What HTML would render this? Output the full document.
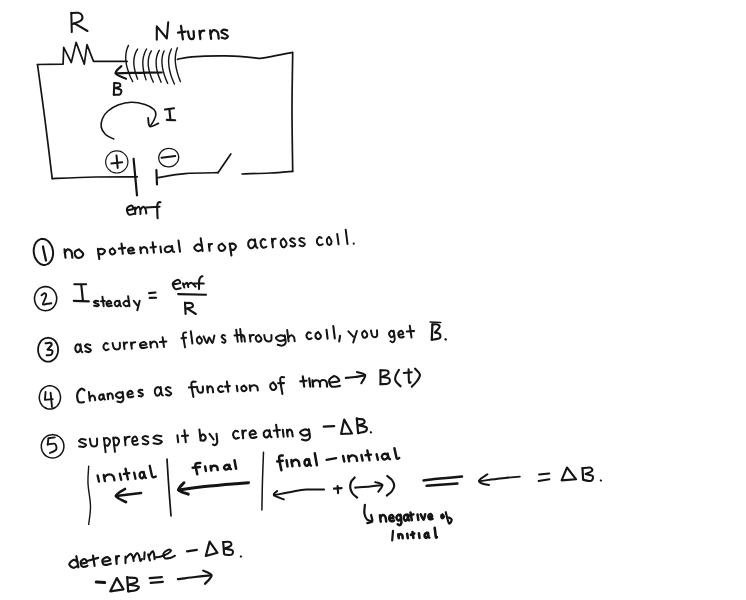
<!DOCTYPE html>
<html><head><meta charset="utf-8"><style>
html,body{margin:0;padding:0;background:#fff;width:746px;height:600px;overflow:hidden;font-family:"Liberation Sans",sans-serif;}
svg{position:absolute;left:0;top:0;filter:blur(0.35px);}
path{fill:none;stroke:#141414;stroke-linecap:round;stroke-linejoin:round;}
</style></head><body>
<svg width="746" height="600" viewBox="0 0 746 600">
<path d="M71.3,12.8L71.8,32.1" stroke-width="2.04"/>
<path d="M71.3,13.2C72.4,13.1 76.2,12.4 78.0,12.8C79.8,13.2 81.6,14.2 82.1,15.5C82.6,16.8 82.5,19.1 81.0,20.5C79.5,21.9 74.2,23.4 72.9,24.0" stroke-width="2.04"/>
<path d="M74.0,23.2L87.5,31.0" stroke-width="2.04"/>
<path d="M37.5,64.5 L63.1,64.1 L63.7,47.3 L71.3,62.5 L76.1,42.4 L84.3,64.1 L87.0,44.6 L93.5,61.4 L127.1,61.4" stroke-width="1.7"/>
<path d="M37.5,64.5C38.8,73.8 42.5,101.0 45.0,120.0C47.5,139.0 51.0,168.8 52.2,178.6" stroke-width="1.7"/>
<path d="M52.2,178.6C59.3,178.3 80.8,177.3 95.0,177.0C109.2,176.7 130.2,176.8 137.3,176.8" stroke-width="1.7"/>
<path d="M133.6,158.8 L137.0,195.3" stroke-width="2.2"/>
<path d="M156.4,170.2 L157.0,184.4" stroke-width="2.2"/>
<path d="M158.1,177.6C162.6,176.9 175.0,174.4 185.0,173.6C195.0,172.8 212.5,172.8 218.0,172.7" stroke-width="1.7"/>
<path d="M218.0,172.7 L230.8,154.0" stroke-width="1.7"/>
<path d="M242.0,174.0C246.7,173.8 261.6,173.4 270.0,173.0C278.4,172.6 288.9,171.6 292.7,171.3" stroke-width="1.7"/>
<path d="M292.7,52.7C292.6,62.2 292.0,90.2 292.0,110.0C292.0,129.8 292.6,161.1 292.7,171.3" stroke-width="1.7"/>
<path d="M177.5,59.3C179.9,58.9 183.8,57.4 191.8,56.8C199.8,56.2 215.6,55.8 225.3,55.9C235.0,56.0 243.9,56.9 250.0,57.3C256.1,57.7 255.0,58.9 262.1,58.1C269.2,57.3 287.4,53.3 292.5,52.3" stroke-width="1.7"/>
<path d="M128.5,45.4C128.2,46.0 127.4,47.8 127.0,49.0C126.6,50.3 126.3,51.6 126.1,52.9C125.9,54.3 125.7,55.7 125.7,57.1C125.7,58.5 125.8,60.0 126.0,61.5C126.1,63.0 126.4,64.6 126.8,66.1C127.1,67.7 127.6,69.4 128.2,71.0C128.7,72.7 129.4,74.4 130.1,76.2C130.9,78.0 132.3,80.7 132.7,81.6" stroke-width="1.4"/>
<path d="M137.6,49.0C137.3,49.5 136.4,50.9 136.0,51.9C135.5,52.9 135.1,54.0 134.8,55.0C134.5,56.1 134.2,57.3 134.1,58.5C133.9,59.6 133.8,60.8 133.8,62.1C133.8,63.4 133.9,64.7 134.1,66.0C134.2,67.3 134.5,68.7 134.8,70.2C135.1,71.6 135.5,73.0 136.0,74.5C136.4,76.1 137.3,78.4 137.6,79.2" stroke-width="1.4"/>
<path d="M146.6,49.0C146.3,49.5 145.5,50.9 145.0,52.0C144.6,53.0 144.2,54.1 143.9,55.2C143.5,56.3 143.3,57.5 143.1,58.7C143.0,59.9 142.9,61.1 142.8,62.4C142.8,63.7 142.9,65.0 143.0,66.4C143.1,67.7 143.3,69.1 143.6,70.6C143.8,72.0 144.2,73.5 144.6,75.1C145.0,76.6 145.8,79.0 146.0,79.8" stroke-width="1.4"/>
<path d="M151.4,50.9C151.1,51.4 150.3,52.9 149.8,53.9C149.4,55.0 149.1,56.1 148.8,57.2C148.5,58.4 148.4,59.5 148.3,60.8C148.2,62.0 148.2,63.2 148.2,64.5C148.3,65.9 148.5,67.2 148.7,68.6C149.0,70.0 149.3,71.4 149.8,72.9C150.2,74.3 150.7,75.9 151.3,77.4C151.9,79.0 153.0,81.4 153.3,82.2" stroke-width="1.4"/>
<path d="M159.3,50.3C159.0,50.8 158.2,52.3 157.8,53.4C157.3,54.5 157.0,55.6 156.7,56.8C156.4,57.9 156.3,59.1 156.2,60.4C156.1,61.6 156.1,62.9 156.2,64.2C156.2,65.6 156.4,66.9 156.6,68.4C156.9,69.8 157.2,71.2 157.6,72.7C158.0,74.2 158.5,75.8 159.1,77.3C159.7,78.9 160.8,81.4 161.1,82.2" stroke-width="1.4"/>
<path d="M164.1,50.9C163.9,51.4 163.2,53.0 162.9,54.1C162.6,55.2 162.3,56.3 162.2,57.5C162.0,58.7 161.9,59.9 161.9,61.2C161.9,62.5 162.0,63.8 162.2,65.2C162.3,66.5 162.5,67.9 162.8,69.3C163.1,70.8 163.5,72.3 164.0,73.8C164.5,75.3 165.0,76.9 165.6,78.5C166.2,80.1 167.4,82.6 167.7,83.4" stroke-width="1.4"/>
<path d="M171.4,49.0C171.2,49.6 170.4,51.3 170.0,52.5C169.6,53.7 169.3,55.0 169.0,56.2C168.8,57.5 168.7,58.9 168.6,60.2C168.6,61.6 168.6,63.0 168.8,64.5C168.9,66.0 169.1,67.5 169.4,69.0C169.7,70.5 170.1,72.1 170.5,73.8C171.0,75.4 171.6,77.0 172.2,78.8C172.9,80.5 174.0,83.1 174.4,84.0" stroke-width="1.4"/>
<path d="M177.4,47.8C177.2,48.4 176.6,50.0 176.3,51.1C176.0,52.3 175.7,53.5 175.6,54.7C175.4,56.0 175.3,57.3 175.3,58.6C175.3,59.9 175.3,61.3 175.4,62.7C175.6,64.1 175.8,65.6 176.0,67.0C176.3,68.5 176.7,70.1 177.1,71.6C177.5,73.2 178.0,74.8 178.5,76.5C179.1,78.2 180.1,80.8 180.4,81.6" stroke-width="1.4"/>
<path d="M115.7,73.3C119.8,73.2 132.3,72.9 140.0,72.8C147.7,72.7 158.1,72.5 161.7,72.5" stroke-width="2.2"/>
<path d="M121.3,66.2C120.4,67.4 114.9,71.2 115.7,73.3C116.5,75.4 124.3,77.8 126.0,78.7" stroke-width="2.24"/>
<path d="M114.3,82.9L113.8,94.7" stroke-width="2.04"/>
<path d="M114.3,83.0C115.1,83.0 118.3,82.8 119.3,83.3C120.2,83.8 120.7,85.5 120.0,86.3C119.3,87.1 115.8,87.7 115.0,88.0" stroke-width="2.04"/>
<path d="M115.0,88.0C116.0,88.3 120.2,89.0 121.0,90.0C121.8,91.0 121.2,93.5 120.0,94.3C118.8,95.1 114.8,94.6 113.8,94.7" stroke-width="2.04"/>
<path d="M156.8,39.8 L156.8,26.4 L166.8,38.5 L168.2,22.4" stroke-width="2.08"/>
<path d="M181.0,25.9L182.9,39.3" stroke-width="2.25"/>
<path d="M178.0,32.6L185.6,31.6" stroke-width="2.25"/>
<path d="M188.0,31.4C188.2,32.3 188.6,35.9 189.2,37.2C189.8,38.5 190.9,39.1 191.6,39.1C192.4,39.2 193.5,38.8 193.8,37.5C194.1,36.2 193.7,32.2 193.6,31.1" stroke-width="2.25"/>
<path d="M199.4,30.8L200.4,39.0" stroke-width="2.25"/>
<path d="M199.9,34.5C200.1,33.9 200.7,31.8 201.4,31.1C202.2,30.5 203.8,30.7 204.3,30.6" stroke-width="2.25"/>
<path d="M210.1,30.3L211.1,38.8" stroke-width="2.25"/>
<path d="M210.5,33.7C211.0,33.1 212.3,30.4 213.4,30.1C214.6,29.9 216.7,30.7 217.6,32.1C218.5,33.5 218.5,37.5 218.7,38.6" stroke-width="2.25"/>
<path d="M227.2,30.3C226.6,30.2 224.7,29.3 223.7,29.6C222.7,29.9 221.1,31.2 221.3,31.9C221.4,32.7 223.6,33.3 224.7,34.0C225.8,34.7 227.7,35.4 227.9,36.2C228.0,36.9 226.6,38.2 225.6,38.5C224.6,38.7 222.4,37.8 221.7,37.7" stroke-width="2.25"/>
<path d="M113.7,139.0C112.3,138.2 107.6,136.5 105.5,134.5C103.4,132.5 101.7,129.7 101.2,127.0C100.7,124.3 101.4,121.2 102.5,118.5C103.6,115.8 105.4,113.2 108.0,111.0C110.6,108.8 114.1,106.5 118.0,105.0C121.9,103.5 126.7,102.3 131.2,102.2C135.7,102.1 141.2,103.3 145.0,104.5C148.8,105.7 152.2,107.8 154.0,109.5C155.8,111.2 155.9,113.1 155.8,115.0C155.7,116.9 154.4,119.2 153.5,121.0C152.6,122.8 151.0,125.0 150.5,125.8" stroke-width="1.6"/>
<path d="M148.1,117.9C148.4,119.3 148.2,125.5 149.9,126.4C151.6,127.3 156.9,123.9 158.3,123.4" stroke-width="1.9"/>
<path d="M165.0,109.5 L174.0,108.3" stroke-width="2.04"/>
<path d="M169.4,109.3 L170.4,119.7" stroke-width="2.16"/>
<path d="M166.8,119.9 L175.2,120.3" stroke-width="2.12"/>
<path d="M116.8,150.8C117.3,150.9 118.7,150.9 119.7,151.2C120.6,151.4 121.5,151.8 122.3,152.3C123.2,152.8 124.0,153.4 124.6,154.1C125.3,154.7 125.9,155.5 126.4,156.3C126.9,157.2 127.3,158.1 127.5,159.0C127.8,160.0 127.9,160.9 127.9,161.9C127.9,162.9 127.8,163.8 127.5,164.8C127.3,165.7 126.9,166.6 126.4,167.5C125.9,168.3 125.3,169.1 124.6,169.7C124.0,170.4 123.2,171.0 122.3,171.5C121.5,172.0 120.6,172.4 119.7,172.6C118.7,172.9 117.8,173.0 116.8,173.0C115.8,173.0 114.9,172.9 113.9,172.6C113.0,172.4 112.1,172.0 111.2,171.5C110.4,171.0 109.6,170.4 109.0,169.7C108.3,169.1 107.7,168.3 107.2,167.5C106.7,166.6 106.3,165.7 106.1,164.8C105.8,163.8 105.7,162.9 105.7,161.9C105.7,160.9 105.8,160.0 106.1,159.0C106.3,158.1 106.7,157.2 107.2,156.3C107.7,155.5 108.3,154.7 109.0,154.1C109.6,153.4 110.4,152.8 111.2,152.3C112.1,151.8 113.0,151.4 113.9,151.2C114.9,150.9 116.3,150.9 116.8,150.8" stroke-width="1.2"/>
<path d="M111.4,163.4 L122.2,162.2" stroke-width="2.0"/>
<path d="M116.5,155.4 L117.7,167.9" stroke-width="2.0"/>
<path d="M166.9,148.6C167.3,148.5 168.6,148.3 169.5,148.4C170.3,148.4 171.2,148.6 172.0,148.8C172.8,149.0 173.6,149.4 174.3,149.8C175.0,150.2 175.7,150.8 176.3,151.4C176.8,152.0 177.3,152.6 177.7,153.3C178.1,154.1 178.3,154.8 178.5,155.6C178.7,156.4 178.7,157.2 178.6,158.0C178.6,158.8 178.4,159.6 178.1,160.4C177.8,161.1 177.4,161.9 176.9,162.6C176.4,163.2 175.8,163.9 175.2,164.4C174.5,165.0 173.8,165.4 173.0,165.8C172.2,166.2 171.4,166.4 170.5,166.6C169.7,166.8 168.8,166.9 167.9,166.8C167.1,166.8 166.2,166.6 165.4,166.4C164.6,166.2 163.8,165.8 163.1,165.4C162.4,165.0 161.7,164.4 161.1,163.8C160.6,163.2 160.1,162.6 159.7,161.9C159.3,161.1 159.1,160.4 158.9,159.6C158.7,158.8 158.7,158.0 158.8,157.2C158.8,156.4 159.0,155.6 159.3,154.8C159.6,154.1 160.0,153.3 160.5,152.6C161.0,152.0 161.6,151.3 162.2,150.8C162.9,150.2 163.6,149.8 164.4,149.4C165.2,149.0 166.5,148.7 166.9,148.6" stroke-width="1.3"/>
<path d="M161.5,157.7 L175.2,156.0" stroke-width="2.0"/>
<path d="M127.3,210.2C128.2,210.0 132.3,209.8 133.0,209.0C133.7,208.2 132.5,205.7 131.5,205.6C130.5,205.5 127.5,207.0 127.0,208.5C126.5,210.0 127.6,213.6 128.8,214.5C130.0,215.4 133.1,213.9 134.0,213.8" stroke-width="2.04"/>
<path d="M135.0,207.5L135.3,214.0" stroke-width="2.04"/>
<path d="M135.3,209.5C135.8,209.1 137.5,206.9 138.3,206.8C139.1,206.7 139.8,207.8 140.2,209.0C140.6,210.2 140.4,213.2 140.5,214.0" stroke-width="2.04"/>
<path d="M140.5,209.5C141.0,209.1 142.5,206.9 143.3,206.8C144.1,206.7 145.0,207.9 145.5,209.0C146.0,210.1 146.2,212.8 146.3,213.5" stroke-width="2.04"/>
<path d="M157.6,218.2C157.5,216.5 157.2,210.4 157.2,208.0C157.2,205.6 157.3,204.8 157.6,203.8C157.9,202.8 158.5,202.4 159.0,202.2C159.5,201.9 160.2,202.3 160.5,202.3" stroke-width="2.08"/>
<path d="M146.2,207.4 L159.6,206.8" stroke-width="2.0"/>
<path d="M41.4,238.9C41.9,239.0 43.1,238.8 44.0,239.0C44.8,239.2 45.7,239.5 46.5,240.0C47.2,240.4 48.0,241.0 48.7,241.7C49.4,242.4 50.1,243.3 50.6,244.2C51.2,245.1 51.7,246.1 52.1,247.2C52.4,248.2 52.7,249.3 52.9,250.5C53.1,251.6 53.1,252.8 53.1,253.9C53.0,255.0 52.9,256.1 52.6,257.1C52.3,258.2 52.0,259.2 51.5,260.0C51.0,260.9 50.5,261.7 49.8,262.4C49.2,263.1 48.5,263.6 47.7,264.0C47.0,264.4 46.2,264.7 45.4,264.9C44.5,265.0 43.7,265.0 42.8,264.8C42.0,264.6 41.1,264.3 40.3,263.8C39.6,263.4 38.8,262.8 38.1,262.1C37.4,261.4 36.7,260.5 36.2,259.6C35.6,258.7 35.1,257.7 34.7,256.6C34.4,255.6 34.1,254.5 33.9,253.3C33.7,252.2 33.7,251.0 33.7,249.9C33.8,248.8 33.9,247.7 34.2,246.7C34.5,245.6 34.8,244.6 35.3,243.8C35.8,242.9 36.3,242.1 37.0,241.4C37.6,240.7 38.3,240.2 39.1,239.8C39.8,239.4 41.0,239.1 41.4,238.9" stroke-width="2.0"/>
<path d="M43.0,246.5C43.2,247.6 43.8,250.7 44.3,253.0C44.8,255.3 45.7,259.2 46.0,260.5" stroke-width="2.24"/>
<path d="M64.5,249.4L65.5,257.6" stroke-width="2.16"/>
<path d="M64.9,252.7C65.3,252.1 66.4,249.6 67.5,249.4C68.6,249.2 70.5,250.1 71.3,251.4C72.1,252.8 72.2,256.6 72.3,257.6" stroke-width="2.16"/>
<path d="M79.0,249.4C78.4,249.8 75.5,250.6 75.0,251.8C74.5,253.1 75.1,255.8 76.0,256.8C77.0,257.8 79.3,258.1 80.5,257.6C81.7,257.2 83.4,255.3 83.2,253.9C82.9,252.5 79.7,250.1 79.0,249.4" stroke-width="2.16"/>
<path d="M97.9,248.8L99.3,259.0" stroke-width="2.07"/>
<path d="M98.0,249.7C98.6,249.5 100.2,248.5 101.4,248.7C102.5,248.9 104.9,250.0 105.0,250.9C105.2,251.8 103.4,253.7 102.3,254.2C101.3,254.7 99.2,253.8 98.6,253.8" stroke-width="2.07"/>
<path d="M112.6,248.3C112.2,248.6 110.2,249.2 109.9,250.1C109.6,251.0 110.0,253.0 110.6,253.6C111.2,254.3 112.7,254.5 113.5,254.1C114.3,253.7 115.5,252.4 115.3,251.4C115.2,250.4 113.1,248.8 112.6,248.3" stroke-width="2.07"/>
<path d="M121.5,243.5L122.8,253.8" stroke-width="2.07"/>
<path d="M118.9,248.6L125.2,247.9" stroke-width="2.07"/>
<path d="M128.4,250.9C129.3,250.8 133.2,250.7 133.8,250.1C134.3,249.6 132.6,247.7 131.7,247.6C130.8,247.5 128.7,248.6 128.2,249.5C127.8,250.4 128.4,252.3 128.9,253.0C129.5,253.6 130.6,253.5 131.5,253.5C132.5,253.4 133.9,252.9 134.4,252.8" stroke-width="2.07"/>
<path d="M140.3,247.3L140.9,253.1" stroke-width="2.07"/>
<path d="M140.6,249.6C141.0,249.2 142.2,247.3 143.2,247.2C144.2,247.0 145.9,247.6 146.6,248.5C147.3,249.5 147.2,252.2 147.4,252.9" stroke-width="2.07"/>
<path d="M152.7,242.4L153.9,252.6" stroke-width="2.07"/>
<path d="M150.6,247.5L155.9,246.8" stroke-width="2.07"/>
<path d="M160.4,246.5L161.1,252.4" stroke-width="2.07"/>
<path d="M172.1,247.3C171.5,247.1 169.6,246.0 168.3,246.3C167.1,246.5 165.2,247.8 164.8,248.7C164.4,249.7 165.3,251.4 166.0,251.9C166.8,252.4 168.3,252.2 169.4,251.8C170.4,251.4 171.8,249.8 172.3,249.3" stroke-width="2.07"/>
<path d="M172.0,246.1C172.1,246.9 172.3,249.8 172.6,250.8C173.0,251.8 173.9,251.7 174.2,251.9" stroke-width="2.07"/>
<path d="M178.5,240.6L180.0,251.7" stroke-width="2.07"/>
<path d="M201.6,245.8C201.0,245.6 199.2,243.9 197.9,244.2C196.7,244.5 194.2,246.6 194.2,247.7C194.2,248.9 196.5,250.8 197.8,251.1C199.1,251.4 201.4,249.9 202.1,249.6" stroke-width="2.07"/>
<path d="M200.7,238.3L202.6,251.0" stroke-width="2.07"/>
<path d="M208.8,244.0L209.6,250.8" stroke-width="2.07"/>
<path d="M209.2,247.0C209.3,246.6 209.7,244.8 210.1,244.3C210.6,243.8 211.7,244.0 212.0,243.9" stroke-width="2.07"/>
<path d="M222.0,243.7C221.4,244.0 219.1,244.8 218.7,245.8C218.3,246.8 218.8,249.1 219.5,249.9C220.3,250.7 222.2,250.9 223.2,250.5C224.1,250.1 225.5,248.5 225.3,247.4C225.1,246.2 222.5,244.3 222.0,243.7" stroke-width="2.07"/>
<path d="M229.7,243.5L231.4,255.5" stroke-width="2.07"/>
<path d="M229.8,244.5C230.3,244.3 231.6,243.2 232.6,243.4C233.6,243.7 235.7,245.0 235.9,246.1C236.1,247.2 234.7,249.4 233.8,249.9C232.9,250.4 231.1,249.4 230.6,249.3" stroke-width="2.07"/>
<path d="M255.1,241.1C254.4,240.8 252.5,239.1 251.4,239.5C250.3,239.8 248.5,241.6 248.2,243.0C247.9,244.4 248.9,246.9 249.7,247.7C250.4,248.5 251.9,248.2 252.8,247.6C253.8,247.0 255.0,244.6 255.4,244.1" stroke-width="1.98"/>
<path d="M254.9,239.3C255.0,240.5 255.4,244.8 255.9,246.2C256.3,247.6 257.2,247.6 257.4,247.9" stroke-width="1.98"/>
<path d="M265.3,239.9C264.8,239.7 263.4,238.5 262.6,239.1C261.8,239.7 260.5,242.0 260.6,243.4C260.7,244.9 262.0,247.1 263.0,247.6C264.0,248.2 265.8,246.8 266.4,246.7" stroke-width="1.98"/>
<path d="M271.9,238.8L272.9,247.3" stroke-width="1.98"/>
<path d="M272.3,242.6C272.5,242.0 272.9,239.8 273.5,239.2C274.0,238.5 275.3,238.8 275.7,238.7" stroke-width="1.98"/>
<path d="M283.5,238.5C283.0,238.9 281.1,239.8 280.8,241.1C280.5,242.3 281.1,245.1 281.7,246.1C282.4,247.0 284.0,247.3 284.8,246.8C285.6,246.3 286.7,244.4 286.5,243.0C286.2,241.6 284.0,239.2 283.5,238.5" stroke-width="1.98"/>
<path d="M294.6,238.9C294.2,238.8 292.6,238.0 291.9,238.2C291.1,238.4 289.9,239.7 290.0,240.3C290.2,241.0 291.8,241.7 292.7,242.3C293.6,243.0 295.1,243.6 295.3,244.3C295.4,245.0 294.3,246.2 293.5,246.5C292.7,246.7 291.0,245.9 290.5,245.8" stroke-width="1.98"/>
<path d="M304.2,238.6C303.7,238.5 302.1,237.7 301.2,237.9C300.4,238.1 299.0,239.4 299.2,240.0C299.3,240.7 301.1,241.4 302.1,242.0C303.0,242.7 304.7,243.3 304.9,244.0C305.0,244.7 303.8,245.9 302.9,246.1C302.1,246.4 300.1,245.5 299.6,245.4" stroke-width="1.98"/>
<path d="M321.6,237.9C321.2,237.8 319.8,236.7 319.0,237.2C318.2,237.8 316.8,239.9 316.9,241.2C316.9,242.5 318.3,244.6 319.3,245.1C320.2,245.6 322.1,244.3 322.7,244.2" stroke-width="1.98"/>
<path d="M329.0,236.9C328.6,237.3 327.1,238.2 326.9,239.3C326.7,240.5 327.2,243.1 327.7,244.0C328.3,244.9 329.6,245.1 330.2,244.7C330.8,244.2 331.7,242.4 331.5,241.1C331.3,239.8 329.4,237.6 329.0,236.9" stroke-width="1.98"/>
<path d="M337.2,234.0L338.6,244.3" stroke-width="1.98"/>
<path d="M345.7,229.7L347.5,244.0" stroke-width="1.98"/>
<path d="M353.7,243.4L353.8,243.7" stroke-width="1.98"/>
<path d="M45.6,286.5C46.1,286.6 47.5,286.6 48.5,286.9C49.4,287.2 50.3,287.6 51.1,288.1C52.0,288.6 52.8,289.3 53.4,290.0C54.1,290.8 54.7,291.6 55.2,292.6C55.7,293.5 56.1,294.5 56.3,295.5C56.6,296.5 56.7,297.6 56.7,298.6C56.7,299.6 56.6,300.7 56.3,301.7C56.1,302.7 55.7,303.7 55.2,304.7C54.7,305.6 54.1,306.4 53.4,307.2C52.8,307.9 52.0,308.6 51.1,309.1C50.3,309.6 49.4,310.0 48.5,310.3C47.5,310.6 46.6,310.7 45.6,310.7C44.6,310.7 43.7,310.6 42.7,310.3C41.8,310.0 40.9,309.6 40.0,309.1C39.2,308.6 38.4,307.9 37.8,307.2C37.1,306.4 36.5,305.6 36.0,304.7C35.5,303.7 35.1,302.7 34.9,301.7C34.6,300.7 34.5,299.6 34.5,298.6C34.5,297.6 34.6,296.5 34.9,295.5C35.1,294.5 35.5,293.5 36.0,292.6C36.5,291.6 37.1,290.8 37.8,290.0C38.4,289.3 39.2,288.6 40.0,288.1C40.9,287.6 41.8,287.2 42.7,286.9C43.7,286.6 45.1,286.6 45.6,286.5" stroke-width="1.6"/>
<path d="M41.5,295.3C42.0,295.0 43.6,293.4 44.4,293.3C45.2,293.2 46.1,294.1 46.2,295.0C46.3,295.9 45.6,297.4 45.0,299.0C44.4,300.6 42.5,303.6 42.8,304.4C43.1,305.2 45.6,304.0 47.0,303.8C48.4,303.6 50.6,303.4 51.3,303.3" stroke-width="1.9"/>
<path d="M74.3,284.3 L86.1,284.3" stroke-width="2.12"/>
<path d="M81.3,284.8 L82.9,300.4" stroke-width="2.16"/>
<path d="M73.8,300.9 L88.8,301.4" stroke-width="2.16"/>
<path d="M98.4,301.3C98.0,301.2 96.5,300.7 95.8,300.8C95.0,300.9 93.7,301.7 93.8,302.1C93.9,302.6 95.6,303.0 96.4,303.5C97.3,304.0 98.8,304.4 98.9,304.9C99.0,305.3 97.9,306.1 97.1,306.2C96.3,306.3 94.6,305.8 94.1,305.7" stroke-width="1.98"/>
<path d="M102.4,296.7L103.7,306.2" stroke-width="1.98"/>
<path d="M101.1,301.3L104.8,300.9" stroke-width="1.98"/>
<path d="M106.7,303.8C107.5,303.7 110.8,303.7 111.3,303.2C111.7,302.7 110.2,300.9 109.4,300.8C108.7,300.7 106.9,301.6 106.6,302.4C106.2,303.2 106.8,305.0 107.3,305.7C107.7,306.3 108.7,306.2 109.5,306.2C110.2,306.2 111.5,305.8 111.9,305.7" stroke-width="1.98"/>
<path d="M119.5,301.9C119.0,301.7 117.7,300.6 117.0,300.8C116.2,301.0 114.9,302.1 114.7,303.0C114.5,303.8 115.2,305.4 115.7,305.9C116.2,306.4 117.2,306.3 117.9,305.9C118.5,305.6 119.4,304.1 119.7,303.8" stroke-width="1.98"/>
<path d="M119.3,300.8C119.4,301.5 119.7,304.2 120.0,305.1C120.3,306.0 120.9,306.0 121.0,306.2" stroke-width="1.98"/>
<path d="M128.8,302.1C128.3,301.9 126.9,300.6 126.0,300.8C125.1,301.0 123.3,302.6 123.3,303.5C123.3,304.4 125.0,305.9 126.0,306.2C127.0,306.5 128.6,305.3 129.1,305.1" stroke-width="1.98"/>
<path d="M128.1,296.2L129.5,306.2" stroke-width="1.98"/>
<path d="M133.8,300.8L137.3,305.4" stroke-width="1.98"/>
<path d="M139.7,300.8L137.3,310.3" stroke-width="1.98"/>
<path d="M149.1,293.1 L155.5,292.5" stroke-width="2.08"/>
<path d="M149.7,297.9 L156.1,297.7" stroke-width="2.08"/>
<path d="M173.6,284.3C174.7,284.1 179.4,283.6 180.1,282.9C180.8,282.1 179.1,279.7 177.9,279.8C176.7,279.9 173.2,281.9 172.8,283.4C172.4,284.9 174.0,288.2 175.3,289.0C176.6,289.8 179.8,288.3 180.7,288.2" stroke-width="2.04"/>
<path d="M182.9,283.4L184.3,287.5" stroke-width="2.04"/>
<path d="M184.6,284.5C185.0,284.2 186.5,282.5 187.1,282.9C187.7,283.3 188.1,286.3 188.3,287.0" stroke-width="2.04"/>
<path d="M188.6,284.2C189.1,284.0 190.4,282.5 191.6,282.9C192.8,283.3 194.9,286.1 195.6,286.7" stroke-width="2.04"/>
<path d="M199.0,289.0C199.1,287.5 198.9,281.9 199.3,279.8C199.7,277.7 200.7,277.2 201.2,276.6C201.7,276.0 202.3,276.4 202.5,276.3" stroke-width="2.08"/>
<path d="M193.9,283.4 L203.8,283.4" stroke-width="2.0"/>
<path d="M178.1,294.1 L206.0,294.7" stroke-width="2.08"/>
<path d="M185.0,302.7L185.6,314.0" stroke-width="2.16"/>
<path d="M185.0,303.0C186.1,303.0 190.2,302.5 191.5,303.2C192.8,303.9 193.4,306.1 192.5,307.0C191.6,307.9 187.2,308.3 186.1,308.6" stroke-width="2.12"/>
<path d="M187.5,308.6L195.8,314.0" stroke-width="2.12"/>
<path d="M48.1,337.7C48.5,337.8 49.9,337.8 50.7,338.1C51.5,338.4 52.4,338.8 53.1,339.3C53.8,339.8 54.6,340.5 55.2,341.2C55.8,341.9 56.3,342.8 56.8,343.7C57.2,344.6 57.5,345.6 57.8,346.6C58.0,347.6 58.1,348.7 58.1,349.7C58.1,350.7 58.0,351.8 57.8,352.8C57.5,353.8 57.2,354.8 56.8,355.7C56.3,356.6 55.8,357.5 55.2,358.2C54.6,358.9 53.8,359.6 53.1,360.1C52.4,360.6 51.5,361.0 50.7,361.3C49.9,361.6 49.0,361.7 48.1,361.7C47.2,361.7 46.3,361.6 45.5,361.3C44.7,361.0 43.8,360.6 43.1,360.1C42.4,359.6 41.6,358.9 41.0,358.2C40.4,357.5 39.9,356.6 39.4,355.7C39.0,354.8 38.7,353.8 38.4,352.8C38.2,351.8 38.1,350.7 38.1,349.7C38.1,348.7 38.2,347.6 38.4,346.6C38.7,345.6 39.0,344.6 39.4,343.7C39.9,342.8 40.4,341.9 41.0,341.2C41.6,340.5 42.4,339.8 43.1,339.3C43.8,338.8 44.7,338.4 45.5,338.1C46.3,337.8 47.7,337.8 48.1,337.7" stroke-width="1.8"/>
<path d="M45.6,343.3C46.4,343.2 49.1,342.6 50.1,342.8C51.1,343.0 52.1,343.6 51.7,344.7C51.3,345.8 48.4,348.7 47.7,349.5" stroke-width="2.0"/>
<path d="M47.7,349.5C48.5,349.7 51.7,349.6 52.3,350.5C52.9,351.4 52.1,354.0 51.2,354.8C50.3,355.6 47.5,355.2 46.7,355.3" stroke-width="2.0"/>
<path d="M80.4,345.9C80.0,345.6 78.5,344.1 77.7,344.3C76.8,344.6 75.5,346.2 75.3,347.4C75.1,348.7 75.9,351.0 76.5,351.7C77.1,352.4 78.2,352.2 78.9,351.7C79.6,351.2 80.5,349.1 80.8,348.6" stroke-width="2.07"/>
<path d="M80.3,344.3C80.4,345.4 80.8,349.2 81.1,350.5C81.5,351.8 82.1,351.8 82.3,352.1" stroke-width="2.07"/>
<path d="M90.3,345.1C89.8,345.0 88.1,344.1 87.2,344.3C86.3,344.5 84.9,345.6 85.0,346.3C85.2,346.9 87.1,347.6 88.0,348.2C89.0,348.8 90.8,349.5 90.9,350.1C91.0,350.8 89.8,351.9 88.9,352.1C88.0,352.3 86.0,351.4 85.4,351.3" stroke-width="2.07"/>
<path d="M107.8,343.8C107.4,343.7 106.1,342.7 105.3,343.2C104.6,343.7 103.4,345.6 103.4,346.7C103.4,347.9 104.7,349.7 105.6,350.1C106.5,350.5 108.2,349.4 108.7,349.2" stroke-width="1.98"/>
<path d="M112.6,343.0C112.8,343.8 113.1,346.9 113.8,347.9C114.5,349.0 115.8,349.5 116.8,349.5C117.8,349.5 119.2,349.1 119.7,348.0C120.2,346.9 119.8,343.6 119.8,342.7" stroke-width="1.98"/>
<path d="M123.7,342.6L124.5,349.0" stroke-width="1.98"/>
<path d="M124.1,345.5C124.2,345.1 124.6,343.4 125.2,342.9C125.7,342.4 126.9,342.6 127.2,342.5" stroke-width="1.98"/>
<path d="M131.0,342.4L131.8,348.7" stroke-width="1.98"/>
<path d="M131.4,345.2C131.6,344.8 132.1,343.2 132.8,342.7C133.5,342.2 134.9,342.3 135.3,342.3" stroke-width="1.98"/>
<path d="M140.3,345.5C141.3,345.3 145.8,345.2 146.4,344.6C147.0,344.0 145.0,342.1 144.0,342.0C143.0,341.9 140.7,343.0 140.1,343.9C139.6,344.9 140.4,346.9 141.0,347.5C141.6,348.2 142.9,348.1 143.9,348.0C144.9,347.9 146.6,347.4 147.1,347.2" stroke-width="1.98"/>
<path d="M150.2,341.8L150.9,347.6" stroke-width="1.98"/>
<path d="M150.5,344.1C151.0,343.7 152.1,341.9 153.1,341.7C154.1,341.5 155.9,342.1 156.6,343.0C157.3,344.0 157.3,346.6 157.4,347.3" stroke-width="1.98"/>
<path d="M162.6,337.3L164.0,346.9" stroke-width="1.98"/>
<path d="M159.9,342.1L166.4,341.4" stroke-width="1.98"/>
<path d="M185.0,347.3C184.7,345.3 183.3,337.6 183.1,335.2C183.0,332.8 183.5,333.1 184.0,332.7C184.5,332.2 185.8,332.5 186.1,332.4" stroke-width="1.98"/>
<path d="M181.5,338.3L186.1,337.7" stroke-width="1.98"/>
<path d="M190.8,331.3L192.4,343.5" stroke-width="1.98"/>
<path d="M199.4,336.5C199.0,336.9 197.2,337.7 196.9,338.7C196.7,339.7 197.1,341.9 197.7,342.7C198.3,343.4 199.8,343.7 200.5,343.3C201.2,342.9 202.2,341.3 202.0,340.2C201.9,339.0 199.8,337.1 199.4,336.5" stroke-width="1.98"/>
<path d="M203.6,336.3C204.1,337.4 206.0,343.0 206.9,343.1C207.8,343.3 208.2,337.4 209.1,337.3C210.0,337.3 211.5,343.3 212.3,343.0C213.2,342.7 214.0,336.8 214.4,335.5" stroke-width="1.98"/>
<path d="M224.9,335.6C224.6,335.5 223.5,334.7 222.9,335.0C222.4,335.2 221.5,336.4 221.6,337.0C221.7,337.7 223.0,338.2 223.6,338.9C224.3,339.5 225.4,340.1 225.5,340.8C225.7,341.4 224.9,342.5 224.3,342.8C223.8,343.0 222.4,342.2 222.1,342.0" stroke-width="1.98"/>
<path d="M236.2,329.7L237.8,341.7" stroke-width="1.98"/>
<path d="M234.5,335.5L239.3,335.0" stroke-width="1.98"/>
<path d="M240.2,329.1L241.7,341.6" stroke-width="1.98"/>
<path d="M241.3,337.9C241.5,337.4 242.0,335.0 242.5,334.9C243.0,334.7 243.8,335.8 244.2,336.9C244.6,338.0 244.8,340.8 244.9,341.6" stroke-width="1.98"/>
<path d="M249.7,334.9L250.5,341.6" stroke-width="1.98"/>
<path d="M250.1,337.9C250.3,337.5 250.8,335.8 251.4,335.3C252.0,334.8 253.4,335.0 253.8,335.0" stroke-width="1.98"/>
<path d="M258.6,335.0C258.2,335.3 256.2,336.0 255.9,336.9C255.6,337.9 256.1,340.1 256.7,340.9C257.4,341.6 258.9,341.9 259.7,341.5C260.5,341.1 261.6,339.7 261.4,338.6C261.3,337.5 259.1,335.6 258.6,335.0" stroke-width="1.98"/>
<path d="M264.2,335.0C264.4,335.8 264.7,338.8 265.4,339.9C266.1,340.9 267.4,341.4 268.4,341.4C269.4,341.5 270.8,341.2 271.3,340.1C271.8,339.1 271.4,335.9 271.4,335.1" stroke-width="1.98"/>
<path d="M284.8,336.4C284.1,336.2 281.9,334.9 280.4,335.2C278.9,335.4 275.8,337.0 275.8,337.9C275.7,338.9 278.4,340.8 280.0,341.0C281.6,341.3 284.3,339.7 285.2,339.5" stroke-width="1.98"/>
<path d="M284.6,335.2C284.8,336.5 286.0,341.4 285.6,343.1C285.2,344.8 283.5,345.3 282.2,345.6C280.9,345.9 278.4,344.9 277.7,344.8" stroke-width="1.98"/>
<path d="M287.2,330.1L288.6,341.3" stroke-width="1.98"/>
<path d="M288.2,337.9C288.6,337.5 289.9,335.4 290.9,335.3C291.8,335.1 293.2,336.1 293.9,337.1C294.5,338.1 294.5,340.5 294.7,341.2" stroke-width="1.98"/>
<path d="M310.7,332.9C310.3,332.8 309.0,331.8 308.3,332.3C307.6,332.8 306.4,334.6 306.4,335.7C306.5,336.9 307.7,338.7 308.5,339.1C309.4,339.5 311.1,338.5 311.6,338.3" stroke-width="2.07"/>
<path d="M318.2,332.1C317.7,332.5 315.9,333.2 315.6,334.2C315.3,335.2 315.7,337.4 316.4,338.2C317.0,339.0 318.5,339.2 319.3,338.8C320.0,338.4 321.1,336.9 320.9,335.8C320.7,334.6 318.6,332.7 318.2,332.1" stroke-width="2.07"/>
<path d="M326.5,329.7L327.6,338.6" stroke-width="2.07"/>
<path d="M333.3,326.1L334.8,338.4" stroke-width="2.07"/>
<path d="M340.1,335.7L339.2,341.4" stroke-width="2.07"/>
<path d="M348.4,331.3L353.3,336.6" stroke-width="1.98"/>
<path d="M356.9,331.0L353.2,342.5" stroke-width="1.98"/>
<path d="M364.7,330.7C364.3,331.1 362.5,331.8 362.2,332.8C362.0,333.8 362.4,336.0 363.0,336.8C363.6,337.6 365.1,337.8 365.8,337.4C366.5,337.0 367.5,335.5 367.3,334.4C367.2,333.2 365.1,331.3 364.7,330.7" stroke-width="1.98"/>
<path d="M371.0,330.5C371.2,331.4 371.5,334.5 372.1,335.6C372.7,336.7 373.8,337.2 374.7,337.3C375.5,337.3 376.6,337.0 377.0,335.9C377.4,334.7 377.0,331.2 377.0,330.3" stroke-width="1.98"/>
<path d="M393.8,332.1C393.4,331.9 392.1,330.5 391.3,330.8C390.5,331.1 388.9,332.8 389.0,333.8C389.0,334.9 390.6,336.9 391.5,337.2C392.3,337.5 393.7,335.8 394.2,335.5" stroke-width="1.98"/>
<path d="M393.6,330.8C393.8,332.2 394.8,337.6 394.7,339.5C394.5,341.4 393.7,341.9 393.0,342.2C392.3,342.5 390.9,341.4 390.4,341.2" stroke-width="1.98"/>
<path d="M398.6,334.5C399.4,334.4 402.7,334.4 403.2,333.8C403.6,333.2 402.0,331.0 401.3,330.8C400.5,330.6 398.8,331.8 398.4,332.8C398.1,333.8 398.7,336.1 399.2,336.8C399.7,337.6 400.7,337.5 401.5,337.5C402.2,337.5 403.4,336.9 403.8,336.8" stroke-width="1.98"/>
<path d="M409.8,325.8L411.5,337.5" stroke-width="1.98"/>
<path d="M406.8,331.5L414.2,330.9" stroke-width="1.98"/>
<path d="M430.1,322.1 L440.8,322.4" stroke-width="1.5"/>
<path d="M432.4,324.4L431.8,339.6" stroke-width="2.24"/>
<path d="M432.4,324.4C433.2,324.4 436.3,324.0 437.5,324.4C438.7,324.8 439.9,325.6 439.5,327.0C439.1,328.4 435.8,331.6 435.1,332.5" stroke-width="2.08"/>
<path d="M435.1,332.5C435.9,332.8 439.1,333.2 439.8,334.1C440.5,335.1 440.8,337.2 439.5,338.2C438.2,339.1 433.1,339.5 431.8,339.8" stroke-width="2.16"/>
<path d="M445.5,339.2L445.8,339.5" stroke-width="2.32"/>
<path d="M49.9,385.7C50.4,385.8 51.8,385.8 52.6,386.1C53.5,386.4 54.4,386.8 55.2,387.3C56.0,387.8 56.7,388.4 57.4,389.1C58.0,389.8 58.6,390.7 59.1,391.5C59.5,392.4 59.9,393.4 60.1,394.4C60.4,395.3 60.5,396.4 60.5,397.4C60.5,398.4 60.4,399.5 60.1,400.4C59.9,401.4 59.5,402.4 59.1,403.2C58.6,404.1 58.0,405.0 57.4,405.7C56.7,406.4 56.0,407.0 55.2,407.5C54.4,408.0 53.5,408.4 52.6,408.7C51.8,409.0 50.8,409.1 49.9,409.1C49.0,409.1 48.0,409.0 47.2,408.7C46.3,408.4 45.4,408.0 44.6,407.5C43.8,407.0 43.1,406.4 42.4,405.7C41.8,405.0 41.2,404.1 40.7,403.2C40.3,402.4 39.9,401.4 39.7,400.4C39.4,399.5 39.3,398.4 39.3,397.4C39.3,396.4 39.4,395.3 39.7,394.4C39.9,393.4 40.3,392.4 40.7,391.5C41.2,390.7 41.8,389.8 42.4,389.1C43.1,388.4 43.8,387.8 44.6,387.3C45.4,386.8 46.3,386.4 47.2,386.1C48.0,385.8 49.4,385.8 49.9,385.7" stroke-width="1.5"/>
<path d="M45.6,392.0 L44.9,399.9 L52.7,399.1" stroke-width="1.9"/>
<path d="M50.6,392.8 L52.0,407.0" stroke-width="1.9"/>
<path d="M84.5,390.3C84.0,390.0 82.5,388.1 81.3,388.7C80.1,389.3 77.8,391.8 77.3,394.0C76.8,396.2 77.5,400.4 78.6,401.8C79.7,403.2 83.0,402.1 83.9,402.1" stroke-width="2.16"/>
<path d="M88.9,392.0L89.9,400.6" stroke-width="2.07"/>
<path d="M89.6,398.0C90.0,397.6 91.1,395.8 92.0,395.6C92.8,395.4 94.0,396.0 94.5,396.8C95.0,397.5 95.1,399.6 95.2,400.2" stroke-width="2.07"/>
<path d="M103.4,395.3C103.1,395.1 101.9,394.2 101.2,394.5C100.5,394.7 99.4,395.9 99.2,396.8C99.0,397.6 99.6,399.1 100.1,399.5C100.5,399.9 101.4,399.8 102.0,399.3C102.6,398.9 103.4,397.5 103.6,397.1" stroke-width="2.07"/>
<path d="M103.3,394.2C103.4,394.9 103.7,397.5 103.9,398.4C104.2,399.3 104.7,399.2 104.9,399.4" stroke-width="2.07"/>
<path d="M107.5,393.7L108.2,399.1" stroke-width="2.07"/>
<path d="M107.8,395.9C108.1,395.5 108.9,393.7 109.6,393.4C110.3,393.2 111.6,393.7 112.2,394.5C112.7,395.4 112.8,398.0 112.9,398.7" stroke-width="2.07"/>
<path d="M122.6,393.1C122.0,392.9 120.4,391.9 119.2,392.3C118.1,392.6 115.8,394.4 115.8,395.3C115.8,396.2 117.9,397.8 119.1,397.9C120.3,398.0 122.3,396.4 122.9,396.1" stroke-width="2.07"/>
<path d="M122.4,391.9C122.6,393.2 123.6,398.0 123.3,399.7C123.1,401.4 121.9,401.9 120.9,402.2C119.9,402.5 118.0,401.7 117.4,401.6" stroke-width="2.07"/>
<path d="M127.7,394.7C128.5,394.5 132.1,394.2 132.6,393.5C133.1,392.9 131.4,390.9 130.6,390.9C129.7,390.8 127.9,392.1 127.5,393.1C127.1,394.1 127.7,396.1 128.3,396.8C128.8,397.5 129.8,397.3 130.7,397.3C131.5,397.2 132.8,396.5 133.3,396.4" stroke-width="2.07"/>
<path d="M142.3,390.1C142.0,390.0 140.7,389.5 140.0,389.7C139.3,390.0 138.3,391.0 138.4,391.6C138.5,392.1 139.9,392.5 140.7,393.0C141.4,393.5 142.8,394.0 142.9,394.5C143.0,395.1 142.1,396.1 141.4,396.4C140.7,396.6 139.2,396.0 138.7,395.9" stroke-width="2.07"/>
<path d="M160.8,388.8C160.2,388.5 158.5,386.8 157.6,387.1C156.6,387.4 155.0,389.1 154.8,390.5C154.6,391.8 155.5,394.3 156.1,395.1C156.8,395.9 158.1,395.6 158.9,395.1C159.7,394.5 160.7,392.3 161.1,391.7" stroke-width="1.98"/>
<path d="M160.6,387.1C160.7,388.2 161.1,392.4 161.5,393.8C161.9,395.2 162.7,395.2 162.9,395.5" stroke-width="1.98"/>
<path d="M170.6,387.9C170.1,387.8 168.5,386.9 167.6,387.1C166.8,387.3 165.4,388.5 165.6,389.2C165.7,389.9 167.5,390.6 168.5,391.3C169.4,392.0 171.1,392.7 171.3,393.4C171.4,394.1 170.2,395.3 169.3,395.5C168.5,395.7 166.6,394.8 166.0,394.7" stroke-width="1.98"/>
<path d="M193.4,396.9C193.0,394.8 191.5,386.8 191.4,384.3C191.2,381.8 191.9,382.2 192.6,381.8C193.4,381.4 195.2,381.8 195.7,381.7" stroke-width="2.07"/>
<path d="M188.9,387.5L195.5,387.0" stroke-width="2.07"/>
<path d="M197.0,386.7C197.1,387.5 197.4,390.3 198.0,391.3C198.6,392.3 199.7,392.8 200.5,392.8C201.3,392.8 202.4,392.5 202.8,391.5C203.2,390.4 202.8,387.4 202.8,386.5" stroke-width="2.07"/>
<path d="M207.2,386.4L207.9,392.5" stroke-width="2.07"/>
<path d="M207.5,388.9C207.8,388.4 208.7,386.6 209.5,386.4C210.3,386.2 211.7,386.8 212.3,387.8C213.0,388.8 213.0,391.5 213.1,392.3" stroke-width="2.07"/>
<path d="M222.5,386.6C222.1,386.5 220.8,385.7 220.1,386.1C219.3,386.5 218.0,388.1 218.0,389.1C218.0,390.1 219.3,391.6 220.2,392.0C221.0,392.3 222.8,391.4 223.4,391.3" stroke-width="2.07"/>
<path d="M226.9,381.6L228.3,391.6" stroke-width="2.07"/>
<path d="M225.1,386.6L229.9,386.0" stroke-width="2.07"/>
<path d="M236.7,385.7L237.5,391.2" stroke-width="2.07"/>
<path d="M244.0,385.5C243.6,385.8 241.8,386.4 241.5,387.2C241.2,388.0 241.6,389.9 242.2,390.5C242.8,391.1 244.2,391.3 245.0,390.9C245.7,390.6 246.8,389.3 246.6,388.4C246.4,387.5 244.4,386.0 244.0,385.5" stroke-width="2.07"/>
<path d="M249.7,385.3L250.4,390.7" stroke-width="2.07"/>
<path d="M250.0,387.5C250.5,387.1 251.8,385.4 253.0,385.3C254.2,385.1 256.2,385.6 257.0,386.5C257.8,387.3 257.6,389.8 257.8,390.4" stroke-width="2.07"/>
<path d="M273.2,382.4C272.7,382.8 270.7,383.5 270.4,384.5C270.0,385.6 270.5,388.1 271.2,388.9C271.9,389.8 273.6,390.1 274.4,389.7C275.2,389.3 276.4,387.7 276.2,386.5C276.0,385.3 273.7,383.1 273.2,382.4" stroke-width="2.07"/>
<path d="M282.4,393.9C282.0,391.5 280.4,382.7 280.2,379.9C280.0,377.1 280.7,377.6 281.3,377.2C282.0,376.7 283.6,377.3 284.1,377.3" stroke-width="2.07"/>
<path d="M278.1,383.3L284.0,383.1" stroke-width="2.07"/>
<path d="M302.8,376.3L304.2,386.6" stroke-width="2.16"/>
<path d="M300.3,381.4L306.5,380.7" stroke-width="2.16"/>
<path d="M309.2,378.4L310.3,386.6" stroke-width="2.16"/>
<path d="M312.5,380.4L313.2,386.6" stroke-width="2.16"/>
<path d="M312.7,382.3C313.2,381.9 314.6,380.4 315.7,380.3C316.8,380.2 318.8,380.7 319.6,381.8C320.3,382.8 320.0,385.8 320.1,386.6" stroke-width="2.16"/>
<path d="M319.6,382.1C320.1,381.7 321.4,380.1 322.6,380.0C323.7,379.9 325.7,380.5 326.4,381.6C327.2,382.7 326.9,385.8 327.0,386.6" stroke-width="2.16"/>
<path d="M329.5,382.5C331.1,382.2 338.1,382.1 339.0,381.0C339.9,379.9 336.6,376.4 335.0,376.2C333.4,376.0 329.9,378.1 329.3,379.8C328.7,381.5 329.7,385.5 331.5,386.5C333.3,387.5 338.5,386.0 339.9,385.9" stroke-width="2.12"/>
<path d="M345.8,377.9C347.3,377.8 351.8,377.4 355.0,377.0C358.2,376.6 363.4,375.5 365.1,375.2" stroke-width="2.16"/>
<path d="M357.0,372.0C358.4,372.5 364.4,373.3 365.1,375.2C365.8,377.1 361.9,381.9 361.3,383.2" stroke-width="2.16"/>
<path d="M380.5,370.2L380.5,384.3" stroke-width="2.12"/>
<path d="M380.5,370.4C381.6,370.4 386.0,370.0 387.3,370.6C388.6,371.2 389.0,372.7 388.1,373.8C387.2,374.9 383.0,376.5 382.0,377.0" stroke-width="2.12"/>
<path d="M382.0,377.0C383.2,377.3 388.2,377.6 389.3,378.7C390.4,379.8 390.0,382.4 388.5,383.3C387.0,384.2 381.8,384.1 380.5,384.3" stroke-width="2.12"/>
<path d="M399.0,369.8C398.4,370.8 396.2,374.1 395.6,376.0C395.0,377.9 394.8,379.3 395.6,381.0C396.4,382.7 399.8,385.4 400.6,386.3" stroke-width="2.12"/>
<path d="M408.6,369.4C408.7,371.5 408.7,379.8 409.0,381.9C409.3,384.0 410.3,382.2 410.6,382.3" stroke-width="2.12"/>
<path d="M403.8,373.0 L411.8,372.2" stroke-width="2.12"/>
<path d="M415.0,368.6C415.8,369.6 419.6,372.6 419.9,374.7C420.2,376.8 418.4,379.0 417.0,381.0C415.6,383.0 412.7,385.8 411.8,386.7" stroke-width="2.12"/>
<path d="M52.6,434.6C53.1,434.7 54.6,434.7 55.5,435.0C56.5,435.3 57.4,435.7 58.2,436.2C59.1,436.7 59.9,437.3 60.6,438.0C61.3,438.7 61.9,439.6 62.4,440.4C62.9,441.3 63.3,442.3 63.5,443.3C63.8,444.2 63.9,445.3 63.9,446.3C63.9,447.3 63.8,448.4 63.5,449.3C63.3,450.3 62.9,451.3 62.4,452.2C61.9,453.0 61.3,453.9 60.6,454.6C59.9,455.3 59.1,455.9 58.2,456.4C57.4,456.9 56.5,457.3 55.5,457.6C54.6,457.9 53.6,458.0 52.6,458.0C51.6,458.0 50.6,457.9 49.7,457.6C48.7,457.3 47.8,456.9 46.9,456.4C46.1,455.9 45.3,455.3 44.6,454.6C43.9,453.9 43.3,453.0 42.8,452.2C42.3,451.3 41.9,450.3 41.7,449.3C41.4,448.4 41.3,447.3 41.3,446.3C41.3,445.3 41.4,444.2 41.7,443.3C41.9,442.3 42.3,441.3 42.8,440.4C43.3,439.6 43.9,438.7 44.6,438.0C45.3,437.3 46.1,436.7 46.9,436.2C47.8,435.7 48.7,435.3 49.7,435.0C50.6,434.7 52.1,434.7 52.6,434.6" stroke-width="1.5"/>
<path d="M54.8,437.4 L48.4,438.2 L47.7,444.5" stroke-width="1.9"/>
<path d="M47.7,444.5C48.9,444.4 53.4,443.0 54.8,443.8C56.2,444.6 57.0,448.0 56.2,449.5C55.4,451.0 51.0,452.4 49.9,453.0" stroke-width="1.9"/>
<path d="M85.7,439.7C85.0,439.6 82.9,438.8 81.8,439.1C80.6,439.3 78.7,440.6 78.9,441.2C79.0,441.9 81.4,442.4 82.6,443.0C83.9,443.7 86.1,444.2 86.2,444.9C86.4,445.5 84.7,446.7 83.5,447.0C82.3,447.2 79.8,446.5 79.1,446.4" stroke-width="1.98"/>
<path d="M89.8,438.7C90.0,439.7 90.3,443.4 91.0,444.7C91.7,446.0 93.0,446.5 94.0,446.6C95.0,446.6 96.4,446.2 96.9,444.8C97.4,443.5 97.0,439.4 97.0,438.4" stroke-width="1.98"/>
<path d="M103.9,438.0L105.6,452.2" stroke-width="1.98"/>
<path d="M104.0,439.3C104.5,439.0 105.8,437.6 106.8,437.9C107.8,438.2 109.8,439.7 110.0,441.0C110.2,442.3 108.8,444.9 107.9,445.6C107.0,446.2 105.2,445.0 104.7,444.9" stroke-width="1.98"/>
<path d="M113.3,437.6L115.0,451.8" stroke-width="1.98"/>
<path d="M113.4,438.8C113.8,438.6 115.1,437.2 116.0,437.5C117.0,437.8 118.9,439.3 119.1,440.6C119.3,441.9 118.0,444.5 117.1,445.2C116.3,445.8 114.6,444.6 114.1,444.5" stroke-width="1.98"/>
<path d="M124.7,437.1L125.5,445.3" stroke-width="1.98"/>
<path d="M125.1,440.8C125.3,440.2 126.0,438.0 126.8,437.4C127.6,436.7 129.3,436.9 129.8,436.8" stroke-width="1.98"/>
<path d="M132.5,441.2C133.3,441.1 136.8,441.0 137.2,440.2C137.7,439.4 136.1,436.7 135.3,436.6C134.5,436.4 132.7,437.9 132.3,439.2C132.0,440.4 132.6,443.2 133.1,444.1C133.7,445.1 134.7,444.9 135.5,444.8C136.3,444.8 137.5,444.1 137.9,443.9" stroke-width="1.98"/>
<path d="M148.0,436.8C147.4,436.7 145.7,435.9 144.8,436.1C143.9,436.4 142.4,437.6 142.5,438.3C142.7,439.0 144.6,439.6 145.6,440.3C146.6,440.9 148.4,441.5 148.5,442.2C148.7,442.9 147.3,444.1 146.4,444.4C145.4,444.6 143.4,443.8 142.8,443.7" stroke-width="1.98"/>
<path d="M161.4,436.2C160.6,436.1 158.1,435.3 156.7,435.5C155.4,435.8 153.2,437.1 153.3,437.8C153.5,438.5 156.3,439.1 157.7,439.7C159.2,440.3 161.8,440.9 161.9,441.6C162.1,442.3 160.1,443.6 158.7,443.9C157.3,444.2 154.4,443.4 153.5,443.3" stroke-width="1.98"/>
<path d="M177.4,435.3L178.2,442.2" stroke-width="2.07"/>
<path d="M184.4,430.2L185.8,442.2" stroke-width="2.07"/>
<path d="M181.9,436.0L188.1,435.5" stroke-width="2.07"/>
<path d="M199.4,429.5L200.7,440.5" stroke-width="2.07"/>
<path d="M200.3,437.1C200.7,436.7 201.9,434.2 202.8,434.2C203.7,434.2 205.5,436.1 205.7,437.1C205.9,438.2 204.7,440.0 203.9,440.5C203.0,441.0 201.2,440.2 200.7,440.1" stroke-width="2.07"/>
<path d="M209.5,433.8L213.7,439.5" stroke-width="2.07"/>
<path d="M216.5,433.8C216.6,435.3 217.4,440.6 217.2,442.5C216.9,444.3 215.8,444.8 215.1,445.1C214.3,445.5 213.2,444.6 212.9,444.5" stroke-width="2.07"/>
<path d="M238.0,431.5C237.5,431.4 236.0,430.2 235.2,430.8C234.4,431.3 233.0,433.4 233.0,434.7C233.1,436.0 234.5,438.1 235.5,438.6C236.5,439.1 238.4,437.8 239.0,437.7" stroke-width="2.07"/>
<path d="M242.3,430.6L243.2,438.3" stroke-width="2.07"/>
<path d="M242.7,434.1C242.9,433.5 243.3,431.6 243.8,431.0C244.4,430.4 245.7,430.6 246.0,430.6" stroke-width="2.07"/>
<path d="M250.0,434.6C250.9,434.5 255.2,434.4 255.7,433.7C256.3,433.0 254.4,430.6 253.4,430.4C252.4,430.3 250.2,431.6 249.7,432.7C249.3,433.9 250.1,436.4 250.7,437.2C251.3,438.1 252.5,437.9 253.5,437.9C254.5,437.8 256.0,437.2 256.5,437.0" stroke-width="2.07"/>
<path d="M269.6,431.5C269.1,431.3 267.5,429.9 266.5,430.2C265.5,430.4 264.0,432.0 263.7,433.1C263.5,434.3 264.3,436.4 265.0,437.1C265.6,437.7 266.9,437.5 267.7,437.0C268.5,436.5 269.5,434.5 269.9,434.0" stroke-width="2.07"/>
<path d="M269.4,430.1C269.6,431.1 269.9,434.6 270.3,435.8C270.6,437.0 271.4,436.9 271.6,437.2" stroke-width="2.07"/>
<path d="M276.1,424.7L277.8,436.9" stroke-width="2.07"/>
<path d="M273.7,430.7L279.9,430.0" stroke-width="2.07"/>
<path d="M282.8,429.8L283.6,436.7" stroke-width="2.07"/>
<path d="M286.9,429.8L287.7,436.5" stroke-width="2.07"/>
<path d="M287.2,432.5C287.6,432.0 288.3,429.9 289.1,429.7C289.9,429.5 291.2,430.2 291.8,431.3C292.4,432.5 292.5,435.5 292.7,436.4" stroke-width="2.07"/>
<path d="M308.9,430.6C308.2,430.4 306.1,429.1 304.6,429.4C303.1,429.7 300.0,431.4 300.0,432.5C299.9,433.5 302.7,435.4 304.2,435.6C305.8,435.8 308.5,434.1 309.3,433.8" stroke-width="2.07"/>
<path d="M308.8,429.3C309.0,430.7 310.2,435.8 309.8,437.6C309.4,439.4 307.8,440.0 306.5,440.3C305.2,440.7 302.7,439.7 302.0,439.6" stroke-width="2.07"/>
<path d="M323.7,426.6 L334.2,426.1" stroke-width="2.24"/>
<path d="M344.2,419.6 L341.1,434.0 L352.0,433.5 L344.2,419.6" stroke-width="2.16"/>
<path d="M356.8,418.3L358.1,433.1" stroke-width="2.16"/>
<path d="M356.8,418.8C357.9,418.9 362.2,418.9 363.4,419.6C364.6,420.3 365.0,422.2 364.2,423.1C363.4,424.0 359.5,424.9 358.6,425.2" stroke-width="2.12"/>
<path d="M358.6,425.2C359.9,425.6 365.2,426.4 366.4,427.4C367.5,428.4 366.8,430.4 365.5,431.3C364.2,432.2 359.7,432.8 358.5,433.1" stroke-width="2.12"/>
<path d="M370.8,432.2L371.0,432.4" stroke-width="2.08"/>
<path d="M88.7,466.1C88.6,469.0 87.7,476.9 88.0,483.5C88.3,490.1 90.4,499.2 90.5,506.0C90.6,512.8 89.0,521.3 88.7,524.4" stroke-width="1.4"/>
<path d="M97.6,475.4L99.0,481.5" stroke-width="2.34"/>
<path d="M103.7,474.9L104.9,481.0" stroke-width="2.34"/>
<path d="M104.2,477.4C104.8,476.9 106.4,474.9 107.9,474.6C109.3,474.3 111.9,474.8 113.0,475.8C114.1,476.7 114.1,479.6 114.4,480.3" stroke-width="2.34"/>
<path d="M119.8,473.7L121.2,479.8" stroke-width="2.34"/>
<path d="M125.5,468.6L127.9,479.3" stroke-width="2.34"/>
<path d="M123.8,474.0L129.3,473.1" stroke-width="2.34"/>
<path d="M134.1,472.6L135.5,478.7" stroke-width="2.34"/>
<path d="M143.9,473.1C143.5,472.9 142.2,471.8 141.5,472.0C140.7,472.3 139.7,473.7 139.6,474.6C139.5,475.6 140.3,477.4 140.9,478.0C141.4,478.5 142.3,478.3 142.9,477.8C143.5,477.4 144.1,475.7 144.3,475.2" stroke-width="2.34"/>
<path d="M143.7,471.9C143.8,472.7 144.4,475.7 144.8,476.7C145.1,477.8 145.7,477.7 145.9,477.9" stroke-width="2.34"/>
<path d="M149.7,465.8C150.1,467.5 151.5,474.3 152.1,476.2C152.8,478.1 153.0,477.2 153.6,477.3C154.2,477.4 155.4,476.7 155.8,476.5" stroke-width="2.34"/>
<path d="M116.0,496.0 L141.0,493.0" stroke-width="2.7"/>
<path d="M125.0,489.0C123.5,490.2 115.8,493.8 116.0,496.0C116.2,498.2 124.3,501.0 126.0,502.0" stroke-width="2.7"/>
<path d="M167.0,459.0C167.3,464.2 168.3,480.5 169.0,490.0C169.7,499.5 170.7,511.7 171.0,516.0" stroke-width="1.7"/>
<path d="M197.3,474.2C197.0,472.7 195.5,467.0 195.4,465.2C195.3,463.4 196.0,463.7 196.8,463.3C197.7,463.0 199.7,463.1 200.2,463.1" stroke-width="2.52"/>
<path d="M192.6,467.7L199.8,467.0" stroke-width="2.52"/>
<path d="M205.1,466.4L205.9,470.9" stroke-width="2.52"/>
<path d="M210.7,466.0L211.3,470.5" stroke-width="2.52"/>
<path d="M210.9,467.8C211.4,467.5 212.5,466.0 213.5,465.8C214.5,465.7 216.2,466.0 216.9,466.7C217.6,467.4 217.6,469.5 217.7,470.1" stroke-width="2.52"/>
<path d="M229.3,465.7C228.9,465.6 227.5,464.7 226.7,464.9C225.8,465.2 224.5,466.2 224.2,466.9C224.0,467.7 224.7,469.0 225.3,469.3C225.8,469.7 226.9,469.5 227.6,469.2C228.4,468.8 229.3,467.6 229.6,467.2" stroke-width="2.52"/>
<path d="M229.2,464.8C229.3,465.4 229.6,467.6 229.9,468.4C230.2,469.1 230.8,469.0 231.0,469.2" stroke-width="2.52"/>
<path d="M234.5,460.3L236.1,468.8" stroke-width="2.52"/>
<path d="M178.6,490.0C183.8,489.3 198.3,487.2 210.0,486.0C221.7,484.8 242.2,483.2 248.6,482.7" stroke-width="2.9"/>
<path d="M184.0,482.7C183.1,483.9 177.9,488.1 178.6,490.0C179.3,491.9 186.7,493.5 188.3,494.2" stroke-width="2.9"/>
<path d="M263.5,452.3C263.3,456.9 262.8,470.4 262.5,480.0C262.2,489.6 262.0,505.0 261.9,510.0" stroke-width="1.5"/>
<path d="M281.4,470.3C281.0,468.3 279.3,460.7 279.1,458.2C278.9,455.8 279.5,456.2 280.1,455.8C280.7,455.3 282.3,455.6 282.7,455.6" stroke-width="2.52"/>
<path d="M277.1,461.4L282.7,460.8" stroke-width="2.52"/>
<path d="M286.5,460.3L287.5,466.4" stroke-width="2.52"/>
<path d="M291.4,460.1L292.4,466.2" stroke-width="2.52"/>
<path d="M291.8,462.5C292.3,462.1 293.5,460.1 294.6,459.9C295.7,459.7 297.6,460.3 298.4,461.3C299.2,462.3 299.3,465.2 299.5,465.9" stroke-width="2.52"/>
<path d="M309.1,460.5C308.7,460.3 307.3,459.1 306.6,459.3C305.8,459.6 304.7,461.0 304.5,462.0C304.4,463.0 305.1,464.8 305.6,465.4C306.2,465.9 307.1,465.7 307.8,465.3C308.4,464.8 309.1,463.1 309.4,462.7" stroke-width="2.52"/>
<path d="M308.9,459.2C309.0,460.1 309.4,463.2 309.8,464.3C310.1,465.3 310.7,465.3 310.9,465.5" stroke-width="2.52"/>
<path d="M314.8,453.2L316.9,465.3" stroke-width="2.52"/>
<path d="M326.5,459.9 L336.2,458.1" stroke-width="2.16"/>
<path d="M343.1,455.9L344.3,461.5" stroke-width="2.43"/>
<path d="M348.1,455.7L349.2,461.2" stroke-width="2.43"/>
<path d="M348.6,457.9C349.1,457.5 350.4,455.7 351.6,455.5C352.8,455.3 355.0,455.8 355.9,456.7C356.8,457.6 356.9,460.1 357.1,460.8" stroke-width="2.43"/>
<path d="M361.4,455.0L362.6,460.5" stroke-width="2.43"/>
<path d="M367.3,450.4L369.5,460.2" stroke-width="2.43"/>
<path d="M365.5,455.3L371.0,454.6" stroke-width="2.43"/>
<path d="M376.6,454.2L377.9,459.7" stroke-width="2.43"/>
<path d="M387.8,454.7C387.2,454.5 385.5,453.5 384.6,453.7C383.6,454.0 382.1,455.2 381.9,456.1C381.6,457.0 382.6,458.7 383.3,459.1C383.9,459.6 385.2,459.4 386.0,459.0C386.8,458.6 387.8,457.0 388.1,456.6" stroke-width="2.43"/>
<path d="M387.5,453.6C387.7,454.3 388.2,457.1 388.6,458.0C389.0,458.9 389.8,458.9 390.0,459.1" stroke-width="2.43"/>
<path d="M394.4,448.2C394.8,449.7 396.0,455.9 396.5,457.6C397.1,459.4 397.2,458.6 397.7,458.7C398.1,458.7 398.9,458.1 399.2,458.0" stroke-width="2.43"/>
<path d="M273.9,495.2C277.1,494.6 287.8,492.3 293.2,491.4C298.6,490.4 301.1,489.8 306.3,489.5C311.5,489.2 321.1,489.5 324.1,489.5" stroke-width="2.0"/>
<path d="M277.2,491.0C276.6,491.7 272.8,493.8 273.9,495.2C275.0,496.6 282.1,498.7 283.8,499.4" stroke-width="2.0"/>
<path d="M334.0,488.6 L341.6,488.1" stroke-width="2.12"/>
<path d="M337.6,486.1 L338.1,493.1" stroke-width="2.12"/>
<path d="M354.7,477.5C354.1,478.2 351.7,480.2 351.0,482.0C350.3,483.8 350.1,486.1 350.3,488.0C350.6,489.9 351.4,491.9 352.5,493.5C353.6,495.1 356.4,496.9 357.2,497.6" stroke-width="2.16"/>
<path d="M355.2,487.6C357.7,487.4 365.5,486.9 370.0,486.5C374.5,486.1 380.2,485.3 382.3,485.1" stroke-width="2.08"/>
<path d="M375.3,482.1C376.5,482.6 381.8,483.5 382.3,485.1C382.8,486.7 379.0,490.5 378.3,491.6" stroke-width="2.08"/>
<path d="M387.3,476.0C388.1,476.7 390.9,478.4 392.0,480.0C393.1,481.6 394.2,483.7 394.2,485.5C394.2,487.3 393.2,489.3 392.0,491.0C390.8,492.7 387.7,494.8 386.8,495.6" stroke-width="2.16"/>
<path d="M423.5,480.4C426.2,480.1 433.6,479.1 440.0,478.5C446.4,477.9 458.3,476.9 462.0,476.6" stroke-width="2.5"/>
<path d="M426.6,485.8C428.8,485.6 434.9,485.2 440.0,484.8C445.1,484.4 454.5,483.7 457.4,483.5" stroke-width="2.5"/>
<path d="M479.0,481.2C482.5,480.8 493.2,479.3 500.0,478.5C506.8,477.7 516.5,476.9 519.8,476.6" stroke-width="1.9"/>
<path d="M487.5,474.2C486.3,475.0 481.9,477.8 480.5,479.0C479.1,480.2 478.8,480.4 479.0,481.2C479.2,481.9 480.3,482.9 482.0,483.5C483.7,484.1 487.8,484.8 489.0,485.0" stroke-width="1.9"/>
<path d="M539.1,474.5 L549.3,473.4" stroke-width="2.0"/>
<path d="M538.6,480.9 L549.3,479.3" stroke-width="2.0"/>
<path d="M567.0,467.5 L561.6,480.4 L576.1,479.3 L567.0,467.5" stroke-width="2.08"/>
<path d="M582.5,468.0L583.1,479.3" stroke-width="2.16"/>
<path d="M582.5,468.3C583.8,468.2 588.4,467.1 590.0,467.5C591.6,467.9 592.9,469.6 592.2,470.7C591.5,471.8 586.9,473.4 585.8,474.0" stroke-width="2.08"/>
<path d="M585.8,474.0C586.9,474.4 591.8,475.0 592.7,476.1C593.6,477.2 592.7,480.3 591.1,480.9C589.5,481.5 584.4,480.0 583.1,479.8" stroke-width="2.08"/>
<path d="M600.8,480.4L601.0,480.6" stroke-width="2.0"/>
<path d="M364.9,504.8C364.8,506.2 364.0,510.9 364.4,513.4C364.8,515.9 365.7,518.2 367.0,519.5C368.3,520.8 371.2,521.1 372.0,521.4" stroke-width="2.24"/>
<path d="M371.1,515.0C371.3,516.1 372.8,520.0 372.2,521.4C371.6,522.8 368.1,522.8 367.3,523.1" stroke-width="2.24"/>
<path d="M379.9,515.2L380.7,521.7" stroke-width="2.52"/>
<path d="M380.2,517.8C380.6,517.4 381.5,515.3 382.3,515.1C383.2,514.9 384.7,515.6 385.3,516.7C386.0,517.7 386.0,520.7 386.2,521.5" stroke-width="2.52"/>
<path d="M389.4,518.5C390.1,518.3 393.1,518.3 393.5,517.7C393.9,517.1 392.5,515.1 391.8,514.9C391.1,514.8 389.6,515.9 389.3,516.9C389.0,517.8 389.5,519.9 390.0,520.7C390.4,521.4 391.3,521.2 392.0,521.2C392.7,521.2 393.7,520.6 394.1,520.5" stroke-width="2.52"/>
<path d="M400.6,515.9C400.2,515.7 399.1,514.5 398.4,514.8C397.7,515.1 396.3,516.6 396.4,517.6C396.4,518.6 397.8,520.3 398.6,520.6C399.3,520.8 400.5,519.2 400.9,519.0" stroke-width="2.52"/>
<path d="M400.4,514.7C400.6,516.0 401.5,520.8 401.4,522.6C401.3,524.3 400.5,524.8 399.9,525.1C399.3,525.4 398.1,524.4 397.7,524.3" stroke-width="2.52"/>
<path d="M407.8,515.7C407.4,515.6 406.3,514.4 405.7,514.6C405.0,514.8 404.0,516.1 403.8,517.0C403.7,518.0 404.3,519.8 404.8,520.3C405.2,520.8 406.0,520.6 406.6,520.2C407.1,519.8 407.8,518.2 408.0,517.8" stroke-width="2.52"/>
<path d="M407.6,514.6C407.8,515.3 408.1,518.3 408.3,519.2C408.6,520.2 409.1,520.2 409.2,520.4" stroke-width="2.52"/>
<path d="M410.5,512.5L411.8,520.2" stroke-width="2.52"/>
<path d="M408.0,516.0L413.4,514.4" stroke-width="2.52"/>
<path d="M417.5,514.4L418.3,519.9" stroke-width="2.52"/>
<path d="M420.7,514.3C421.2,515.2 422.8,519.7 423.6,519.7C424.3,519.7 424.9,515.1 425.2,514.2" stroke-width="2.52"/>
<path d="M428.5,517.0C429.1,516.9 431.8,516.9 432.1,516.4C432.5,515.9 431.2,514.2 430.6,514.1C430.0,514.0 428.6,514.9 428.4,515.7C428.1,516.5 428.6,518.3 429.0,518.9C429.4,519.5 430.2,519.4 430.8,519.3C431.4,519.3 432.3,518.8 432.6,518.7" stroke-width="2.52"/>
<path d="M442.5,514.5C442.3,514.6 441.4,515.0 441.3,515.5C441.2,516.1 441.4,517.3 441.7,517.7C442.0,518.1 442.7,518.2 443.0,518.0C443.4,517.8 443.8,517.0 443.7,516.4C443.7,515.8 442.7,514.8 442.5,514.5" stroke-width="2.43"/>
<path d="M445.8,512.2C446.3,514.1 448.0,522.1 449.0,523.4C450.0,524.6 451.7,520.7 451.7,519.7C451.7,518.7 449.4,517.9 449.0,517.5" stroke-width="2.16"/>
<path d="M393.0,530.8L392.2,540.5" stroke-width="2.24"/>
<path d="M398.3,534.3L398.8,538.2" stroke-width="2.61"/>
<path d="M398.5,535.9C398.8,535.6 399.4,534.3 400.0,534.2C400.6,534.1 401.7,534.5 402.1,535.1C402.6,535.8 402.6,537.7 402.7,538.2" stroke-width="2.61"/>
<path d="M407.2,533.9L407.8,538.1" stroke-width="2.61"/>
<path d="M412.5,532.0L413.4,538.0" stroke-width="2.61"/>
<path d="M410.9,534.8L414.3,533.5" stroke-width="2.61"/>
<path d="M418.9,533.3L419.5,537.9" stroke-width="2.61"/>
<path d="M428.0,533.8C427.7,533.6 426.7,532.7 426.2,532.9C425.6,533.1 424.7,534.1 424.6,534.9C424.5,535.7 425.0,537.1 425.4,537.5C425.8,538.0 426.5,537.8 426.9,537.5C427.4,537.2 428.0,535.8 428.2,535.5" stroke-width="2.61"/>
<path d="M427.9,532.8C428.0,533.5 428.2,535.9 428.5,536.7C428.7,537.6 429.1,537.5 429.3,537.7" stroke-width="2.61"/>
<path d="M434.7,527.8C434.9,529.3 435.5,534.9 435.8,536.6C436.1,538.2 436.1,537.5 436.3,537.6C436.5,537.7 436.8,537.1 436.9,537.1" stroke-width="2.61"/>
<path d="M77.4,561.5C76.8,561.3 74.8,559.5 73.4,559.9C72.1,560.4 69.3,562.9 69.3,564.2C69.2,565.5 71.7,567.5 73.2,567.8C74.6,568.0 77.1,566.1 77.9,565.8" stroke-width="2.16"/>
<path d="M76.3,556.2L78.4,567.3" stroke-width="2.16"/>
<path d="M81.0,563.6C82.0,563.4 86.2,563.1 86.8,562.3C87.4,561.5 85.5,559.1 84.5,559.0C83.5,558.9 81.3,560.4 80.8,561.6C80.3,562.8 81.1,565.4 81.7,566.2C82.3,567.1 83.5,566.9 84.5,566.8C85.5,566.7 87.0,565.9 87.5,565.7" stroke-width="2.16"/>
<path d="M93.0,555.6L94.6,565.9" stroke-width="2.16"/>
<path d="M88.0,560.7L98.2,557.9" stroke-width="2.16"/>
<path d="M102.7,561.7C103.9,561.5 109.3,561.1 110.1,560.3C110.9,559.6 108.5,557.2 107.3,557.1C106.0,557.0 103.1,558.6 102.5,559.8C101.9,561.0 102.7,563.5 103.5,564.4C104.2,565.2 105.8,564.9 107.0,564.8C108.3,564.7 110.3,563.9 110.9,563.7" stroke-width="2.16"/>
<path d="M116.0,556.4L116.7,564.0" stroke-width="2.16"/>
<path d="M116.3,559.8C116.5,559.3 116.8,557.3 117.3,556.7C117.7,556.1 118.8,556.2 119.1,556.1" stroke-width="2.16"/>
<path d="M125.5,556.6L125.5,563.1" stroke-width="2.08"/>
<path d="M126.0,558.0C126.7,557.3 129.1,554.2 130.2,553.9C131.3,553.6 131.9,554.8 132.5,556.0C133.1,557.2 133.5,560.1 133.7,560.9" stroke-width="2.08"/>
<path d="M133.7,558.0C134.2,557.2 135.9,553.5 136.8,553.1C137.7,552.7 138.4,554.2 139.0,555.5C139.6,556.8 139.8,560.3 140.3,560.9C140.8,561.5 141.7,559.3 142.0,559.0" stroke-width="2.08"/>
<path d="M144.6,552.4L144.2,559.2" stroke-width="2.08"/>
<path d="M148.1,554.4L149.9,560.5" stroke-width="2.08"/>
<path d="M149.0,556.0C149.6,555.2 151.7,551.6 152.5,551.3C153.3,551.0 153.7,552.7 154.0,554.0C154.3,555.3 154.5,558.3 154.6,559.2" stroke-width="2.08"/>
<path d="M155.0,557.5C156.0,557.3 158.8,557.2 161.0,556.5C163.2,555.8 166.3,554.5 168.0,553.5C169.7,552.5 171.0,551.1 171.0,550.5C171.0,549.9 169.2,549.3 168.0,549.8C166.8,550.3 164.0,552.1 163.5,553.5C163.0,554.9 163.9,557.5 165.0,558.3C166.1,559.0 168.3,558.4 170.0,558.0C171.7,557.6 174.2,556.1 175.0,555.7" stroke-width="2.0"/>
<path d="M187.0,551.4 L196.9,549.8" stroke-width="2.2"/>
<path d="M209.6,541.6 L205.8,556.0 L217.5,552.8 L209.6,541.6" stroke-width="2.16"/>
<path d="M223.2,542.0L224.1,553.8" stroke-width="2.16"/>
<path d="M223.2,542.0C224.3,542.0 228.4,541.5 229.7,542.0C231.0,542.5 231.9,544.2 231.1,545.3C230.3,546.4 226.0,548.0 225.0,548.6" stroke-width="2.08"/>
<path d="M225.0,548.6C226.2,548.9 231.4,549.5 232.5,550.5C233.6,551.5 232.8,554.0 231.6,554.7C230.3,555.4 226.1,554.7 225.0,554.7" stroke-width="2.08"/>
<path d="M240.8,556.4L241.0,556.6" stroke-width="2.08"/>
<path d="M96.3,582.0 L104.7,582.6" stroke-width="3.0"/>
<path d="M116.9,578.1 L110.3,591.3 L123.5,589.4 L116.9,578.1" stroke-width="2.24"/>
<path d="M127.2,577.2L128.2,591.3" stroke-width="2.24"/>
<path d="M127.2,577.6C128.6,577.7 134.1,577.4 135.7,578.1C137.3,578.8 137.7,580.9 136.6,582.0C135.5,583.1 130.3,584.2 129.1,584.7" stroke-width="2.2"/>
<path d="M129.1,584.7C130.7,585.0 137.4,585.7 138.5,586.6C139.6,587.5 137.4,589.5 135.7,590.3C134.0,591.1 129.7,591.1 128.5,591.3" stroke-width="2.2"/>
<path d="M149.7,578.1 L161.9,577.2" stroke-width="2.16"/>
<path d="M150.7,582.8 L162.9,581.9" stroke-width="2.16"/>
<path d="M177.9,579.1C180.8,578.8 189.5,577.6 195.0,577.0C200.5,576.4 208.1,575.6 210.7,575.3" stroke-width="2.24"/>
<path d="M203.2,570.6C204.6,571.4 211.3,573.1 211.6,575.3C211.9,577.5 206.2,582.4 205.1,583.8" stroke-width="2.24"/>
</svg>
</body></html>
